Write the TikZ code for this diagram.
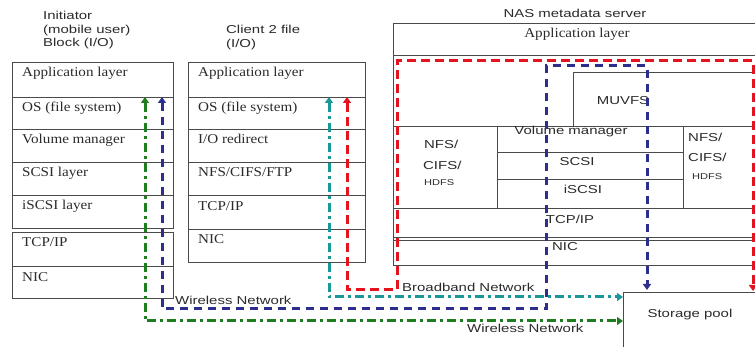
\documentclass[tikz,border=0pt]{standalone}
\usepackage{fontspec}
\setmainfont{Liberation Serif}[FakeStretch=1.12]
\newfontfamily\lsans{Liberation Sans}[FakeStretch=1.3]
\usetikzlibrary{arrows.meta,calc}
\definecolor{boxline}{HTML}{4A4A4A}
\definecolor{flowred}{HTML}{E3141E}
\definecolor{flowblue}{HTML}{2B2E8C}
\definecolor{flowteal}{HTML}{1A9898}
\definecolor{flowgreen}{HTML}{1E7D1E}
\definecolor{txt}{HTML}{2A2A2A}
\begin{document}
\begin{tikzpicture}[x=1pt,y=-1pt,
  cell/.style={draw=boxline, line width=0.9pt, inner sep=0pt, outer sep=0pt, anchor=north west},
  serifl/.style={text=txt, inner sep=0pt, anchor=base west, font=\fontsize{13.5}{15}\selectfont},
  sansl/.style={text=txt, inner sep=0pt, font=\lsans\fontsize{11.5}{13.5}\selectfont},
  smalll/.style={text=txt, inner sep=0pt, anchor=west, font=\lsans\fontsize{8.5}{10}\selectfont},
  datapath/.style={line width=3pt, {Triangle[length=6pt,width=8pt]}-{Triangle[length=6pt,width=8pt]}},
  redflow/.style={datapath, draw=flowred, dash pattern=on 9pt off 5pt},
  blueflow/.style={datapath, draw=flowblue, dash pattern=on 8pt off 6pt},
  tealflow/.style={datapath, draw=flowteal, dash pattern=on 9pt off 4pt on 3pt off 4pt},
  greenflow/.style={datapath, draw=flowgreen, dash pattern=on 9pt off 4pt on 3pt off 4pt}
]
\useasboundingbox (0,0) rectangle (755,347);
\clip (0,0) rectangle (755,347);

% ---------- Initiator stack ----------
\node[sansl, anchor=north west, align=left] (inittitle) at (43,11) {Initiator\\(mobile user)\\Block (I/O)};
\node[cell, minimum width=161pt, minimum height=35pt] (iapp) at (12,62) {};
\node[cell, minimum width=161pt, minimum height=32pt] (ios) at (12,97) {};
\node[cell, minimum width=161pt, minimum height=33pt] (ivol) at (12,129) {};
\node[cell, minimum width=161pt, minimum height=33pt] (iscsi) at (12,162) {};
\node[cell, minimum width=161pt, minimum height=33pt] (iiscsi) at (12,195) {};
\node[cell, minimum width=161pt, minimum height=34pt] (itcp) at (12,232) {};
\node[cell, minimum width=161pt, minimum height=32pt] (inic) at (12,266) {};
\node[serifl] at ([shift={(10,15)}]iapp.north west) {Application layer};
\node[serifl] at ([shift={(10,15)}]ios.north west) {OS (file system)};
\node[serifl] at ([shift={(10,15)}]ivol.north west) {Volume manager};
\node[serifl] at ([shift={(10,15)}]iscsi.north west) {SCSI layer};
\node[serifl] at ([shift={(10,15)}]iiscsi.north west) {iSCSI layer};
\node[serifl] at ([shift={(10,15)}]itcp.north west) {TCP/IP};
\node[serifl] at ([shift={(10,16)}]inic.north west) {NIC};

% ---------- Client stack ----------
\node[sansl, anchor=north west, align=left] (clienttitle) at (226,25) {Client 2 file\\(I/O)};
\node[cell, minimum width=177pt, minimum height=35pt] (capp) at (188,62) {};
\node[cell, minimum width=177pt, minimum height=32pt] (cos) at (188,97) {};
\node[cell, minimum width=177pt, minimum height=33pt] (credir) at (188,129) {};
\node[cell, minimum width=177pt, minimum height=33pt] (cnfs) at (188,162) {};
\node[cell, minimum width=177pt, minimum height=34pt] (ctcp) at (188,195) {};
\node[cell, minimum width=177pt, minimum height=33pt] (cnic) at (188,229) {};
\node[serifl] at ([shift={(10,15)}]capp.north west) {Application layer};
\node[serifl] at ([shift={(10,15)}]cos.north west) {OS (file system)};
\node[serifl] at ([shift={(10,15)}]credir.north west) {I/O redirect};
\node[serifl] at ([shift={(10,15)}]cnfs.north west) {NFS/CIFS/FTP};
\node[serifl] at ([shift={(10,16)}]ctcp.north west) {TCP/IP};
\node[serifl] at ([shift={(10,15)}]cnic.north west) {NIC};

% ---------- NAS metadata server ----------
\node[sansl] (nastitle) at (575,13) {NAS metadata server};
\node[cell, minimum width=370pt, minimum height=32pt] (napp) at (393,23) {};
\node[cell, minimum width=370pt, minimum height=210pt] (nbody) at (393,55) {};
\node[cell, minimum width=190pt, minimum height=54pt] (nmuvfs) at (573,72) {};
\node[cell, minimum width=104pt, minimum height=82pt] (nfsl) at (393,126) {};
\node[cell, minimum width=186pt, minimum height=26pt] (nvol) at (497,126) {};
\node[cell, minimum width=186pt, minimum height=27pt] (nscsi) at (497,152) {};
\node[cell, minimum width=186pt, minimum height=29pt] (niscsi) at (497,179) {};
\node[cell, minimum width=80pt, minimum height=82pt] (nfsr) at (683,126) {};
\node[cell, minimum width=370pt, minimum height=29pt] (ntcp) at (393,208) {};
\node[cell, minimum width=370pt, minimum height=25pt] (nnic) at (393,240) {};
\node[serifl, anchor=center] at (577,34) {Application layer};
\node[sansl] at (623,101) {MUVFS};
\node[sansl] at (571,132) {Volume manager};
\node[sansl] at (577,162) {SCSI};
\node[sansl] at (583,189) {iSCSI};
\node[sansl] at (570,219) {TCP/IP};
\node[sansl] at (565,247) {NIC};
\node[sansl, anchor=west] at (424,144) {NFS/};
\node[sansl, anchor=west] at (423,165) {CIFS/};
\node[smalll] at (424,183) {HDFS};
\node[sansl, anchor=west] at (688,137) {NFS/};
\node[sansl, anchor=west] at (688,157) {CIFS/};
\node[smalll] at (692,177) {HDFS};

% ---------- Storage pool ----------
\node[cell, minimum width=140pt, minimum height=60pt] (pool) at (623,292) {};
\node[sansl] at (690,315) {Storage pool};

% ---------- Network labels ----------
\node[sansl, anchor=west] at (175,300) {Wireless Network};
\node[sansl, anchor=west] at (402,287) {Broadband Network};
\node[sansl, anchor=west] at (467,328) {Wireless Network};

% ---------- Data paths ----------
\coordinate (gtop) at (145,97);
\coordinate (btop) at (162,97);
\coordinate (ttop) at (329,97);
\coordinate (rtop) at (347,97);
\coordinate (bturnA) at (546,309);
\coordinate (bturnB) at (647,66);
\coordinate (rturnA) at (397,290);
\coordinate (rturnB) at (753,61);

\draw[greenflow] (gtop) |- ($(pool.north west)+(0,29)$);
\draw[tealflow] (ttop) |- ($(pool.north west)+(0,5)$);
\draw[blueflow, shorten >=2pt] (btop) |- (bturnA) |- (bturnB) -- (bturnB |- pool.north);
\draw[redflow, shorten >=1pt] (rtop) |- (rturnA) |- (rturnB) -- (rturnB |- pool.north);
\end{tikzpicture}
\end{document}
